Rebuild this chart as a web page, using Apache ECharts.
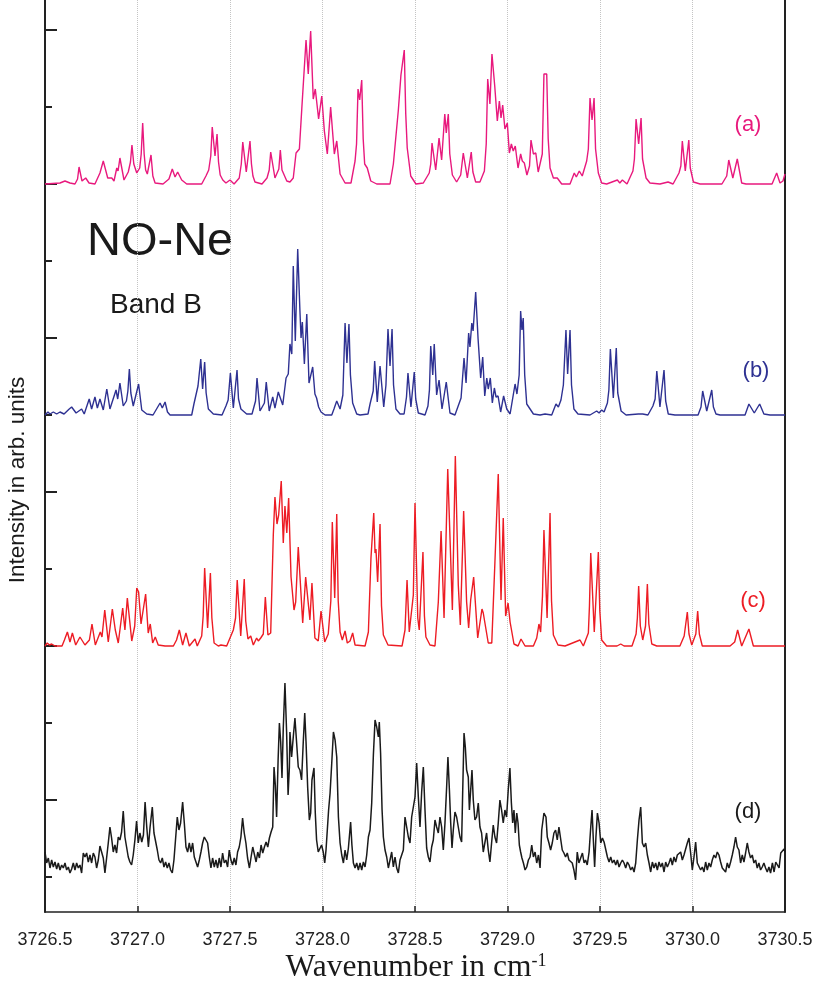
<!DOCTYPE html>
<html>
<head>
<meta charset="utf-8">
<script src="https://cdn.jsdelivr.net/npm/echarts@6/dist/echarts.min.js"></script>
<style>
html,body{margin:0;padding:0;background:#fff;}
#chart{width:823px;height:987px;}
</style>
</head>
<body>
<div id="chart"></div>
<script>
// NO-Ne, band B: three simulated spectra (a)-(c) and the measured spectrum (d).
// Each spectrum is a list of [wavenumber (cm^-1), intensity (arb. units)] pairs,
// intensity measured from that spectrum's own baseline.
const specA = [[3726.500,0],[3726.581,1],[3726.608,3],[3726.635,1],[3726.662,0],[3726.676,5],[3726.684,17],[3726.700,3],[3726.720,6],[3726.738,1],[3726.770,0],[3726.797,11],[3726.815,23],[3726.839,6],[3726.861,6],[3726.873,3],[3726.888,16],[3726.895,13],[3726.905,26],[3726.927,4],[3726.950,12],[3726.962,22],[3726.970,39],[3726.980,20],[3726.996,11],[3727.012,16],[3727.020,30],[3727.028,61],[3727.036,30],[3727.044,14],[3727.053,10],[3727.073,29],[3727.083,8],[3727.095,1],[3727.138,0],[3727.170,5],[3727.188,15],[3727.203,7],[3727.217,12],[3727.239,4],[3727.266,0],[3727.347,0],[3727.370,8],[3727.385,14],[3727.396,28],[3727.404,57],[3727.419,28],[3727.430,50],[3727.438,22],[3727.447,9],[3727.461,4],[3727.478,1],[3727.500,4],[3727.522,0],[3727.550,6],[3727.561,20],[3727.569,42],[3727.588,12],[3727.608,43],[3727.616,20],[3727.624,8],[3727.635,2],[3727.673,0],[3727.700,6],[3727.712,14],[3727.720,32],[3727.743,6],[3727.764,15],[3727.772,34],[3727.781,14],[3727.807,3],[3727.824,2],[3727.842,6],[3727.857,31],[3727.875,35],[3727.888,75],[3727.896,77],[3727.911,144],[3727.923,110],[3727.936,153],[3727.950,85],[3727.961,95],[3727.979,65],[3727.996,88],[3728.010,53],[3728.026,30],[3728.044,77],[3728.064,30],[3728.077,43],[3728.095,10],[3728.122,1],[3728.154,1],[3728.176,23],[3728.184,40],[3728.192,95],[3728.201,84],[3728.212,104],[3728.220,45],[3728.228,20],[3728.242,16],[3728.261,3],[3728.293,0],[3728.365,0],[3728.383,20],[3728.410,74],[3728.424,109],[3728.434,110],[3728.442,134],[3728.450,70],[3728.458,36],[3728.477,8],[3728.505,0],[3728.545,1],[3728.577,11],[3728.585,20],[3728.592,41],[3728.612,14],[3728.630,46],[3728.644,24],[3728.661,70],[3728.669,51],[3728.680,70],[3728.688,30],[3728.702,9],[3728.725,2],[3728.747,9],[3728.761,31],[3728.783,6],[3728.804,32],[3728.813,12],[3728.828,2],[3728.851,2],[3728.875,13],[3728.885,40],[3728.893,105],[3728.905,80],[3728.916,130],[3728.931,98],[3728.945,63],[3728.956,83],[3728.965,66],[3728.974,79],[3728.986,55],[3728.999,61],[3729.010,31],[3729.021,40],[3729.031,33],[3729.042,38],[3729.057,16],[3729.071,30],[3729.080,23],[3729.091,21],[3729.105,9],[3729.119,18],[3729.127,44],[3729.140,30],[3729.153,31],[3729.166,12],[3729.188,30],[3729.197,110],[3729.212,110],[3729.220,45],[3729.230,16],[3729.248,6],[3729.269,6],[3729.293,0],[3729.338,0],[3729.361,11],[3729.372,7],[3729.388,13],[3729.404,8],[3729.428,23],[3729.437,35],[3729.446,86],[3729.457,64],[3729.468,86],[3729.476,35],[3729.491,11],[3729.509,1],[3729.536,0],[3729.594,4],[3729.607,1],[3729.621,4],[3729.646,0],[3729.678,13],[3729.686,25],[3729.695,65],[3729.709,40],[3729.722,66],[3729.730,25],[3729.749,6],[3729.770,1],[3729.824,0],[3729.868,2],[3729.895,0],[3729.927,11],[3729.937,18],[3729.945,43],[3729.961,13],[3729.980,44],[3729.988,16],[3730.005,2],[3730.041,0],[3730.159,0],[3730.185,8],[3730.196,24],[3730.218,6],[3730.242,25],[3730.266,1],[3730.289,0],[3730.430,0],[3730.455,11],[3730.473,1],[3730.489,3],[3730.500,10]];

const specB = [[3726.500,0],[3726.516,3],[3726.527,1],[3726.545,3],[3726.563,1],[3726.581,3],[3726.603,1],[3726.631,6],[3726.644,8],[3726.668,2],[3726.698,6],[3726.712,1],[3726.739,16],[3726.752,6],[3726.770,18],[3726.783,7],[3726.797,16],[3726.815,5],[3726.834,26],[3726.851,6],[3726.884,25],[3726.893,16],[3726.905,32],[3726.923,9],[3726.940,14],[3726.948,24],[3726.956,46],[3726.964,22],[3726.977,9],[3727.006,31],[3727.023,5],[3727.050,1],[3727.084,0],[3727.122,12],[3727.134,7],[3727.149,13],[3727.162,3],[3727.176,0],[3727.293,0],[3727.305,11],[3727.327,29],[3727.342,56],[3727.352,26],[3727.363,53],[3727.371,22],[3727.383,6],[3727.410,1],[3727.457,0],[3727.478,9],[3727.490,15],[3727.502,42],[3727.518,7],[3727.538,45],[3727.546,16],[3727.559,6],[3727.590,1],[3727.619,1],[3727.638,14],[3727.646,37],[3727.662,4],[3727.686,12],[3727.696,33],[3727.712,4],[3727.731,18],[3727.743,7],[3727.761,23],[3727.785,10],[3727.803,37],[3727.815,41],[3727.824,71],[3727.834,61],[3727.842,149],[3727.853,74],[3727.866,166],[3727.878,104],[3727.884,77],[3727.891,93],[3727.902,51],[3727.915,101],[3727.927,32],[3727.936,31],[3727.947,48],[3727.959,21],[3727.968,17],[3727.979,8],[3727.992,3],[3728.014,0],[3728.050,0],[3728.062,6],[3728.077,14],[3728.095,6],[3728.110,20],[3728.122,92],[3728.132,52],[3728.143,91],[3728.151,40],[3728.163,12],[3728.185,1],[3728.203,0],[3728.246,1],[3728.257,11],[3728.274,24],[3728.282,54],[3728.296,13],[3728.311,49],[3728.331,8],[3728.343,30],[3728.354,86],[3728.365,49],[3728.376,86],[3728.384,30],[3728.397,6],[3728.419,1],[3728.441,1],[3728.454,18],[3728.462,42],[3728.478,8],[3728.496,43],[3728.504,16],[3728.518,2],[3728.554,0],[3728.570,9],[3728.578,25],[3728.585,69],[3728.596,40],[3728.604,71],[3728.617,20],[3728.630,35],[3728.646,6],[3728.669,33],[3728.689,2],[3728.716,0],[3728.749,17],[3728.765,57],[3728.776,32],[3728.790,82],[3728.797,68],[3728.807,92],[3728.814,84],[3728.828,123],[3728.841,76],[3728.855,37],[3728.866,58],[3728.877,19],[3728.888,37],[3728.896,26],[3728.907,37],[3728.918,12],[3728.929,27],[3728.938,18],[3728.949,19],[3728.963,3],[3728.979,19],[3728.996,6],[3729.014,1],[3729.023,11],[3729.041,31],[3729.051,21],[3729.063,40],[3729.071,104],[3729.078,85],[3729.085,97],[3729.093,40],[3729.104,11],[3729.122,6],[3729.140,1],[3729.176,0],[3729.203,1],[3729.239,0],[3729.262,11],[3729.275,8],[3729.289,15],[3729.302,30],[3729.316,85],[3729.325,41],[3729.338,85],[3729.346,30],[3729.359,6],[3729.381,1],[3729.446,0],[3729.482,4],[3729.495,2],[3729.509,5],[3729.522,3],[3729.540,12],[3729.548,25],[3729.556,66],[3729.572,17],[3729.588,67],[3729.596,22],[3729.614,4],[3729.641,0],[3729.707,1],[3729.731,1],[3729.759,0],[3729.786,9],[3729.798,16],[3729.807,44],[3729.824,8],[3729.846,45],[3729.855,14],[3729.869,1],[3729.905,0],[3730.030,0],[3730.046,8],[3730.055,24],[3730.077,4],[3730.104,25],[3730.113,8],[3730.127,1],[3730.149,0],[3730.284,0],[3730.305,11],[3730.334,2],[3730.363,11],[3730.386,1],[3730.419,0],[3730.500,0]];

const specC = [[3726.500,0],[3726.512,3],[3726.524,1],[3726.536,2],[3726.554,0],[3726.592,0],[3726.605,6],[3726.621,14],[3726.635,4],[3726.648,13],[3726.666,1],[3726.689,9],[3726.698,10],[3726.716,1],[3726.740,6],[3726.754,22],[3726.772,1],[3726.799,14],[3726.808,9],[3726.823,36],[3726.842,4],[3726.864,37],[3726.880,16],[3726.896,3],[3726.920,38],[3726.932,16],[3726.945,48],[3726.969,5],[3726.985,20],[3726.996,58],[3727.006,54],[3727.019,22],[3727.028,24],[3727.044,52],[3727.058,13],[3727.069,22],[3727.082,3],[3727.096,9],[3727.112,1],[3727.149,0],[3727.194,0],[3727.211,6],[3727.226,16],[3727.244,1],[3727.262,13],[3727.280,0],[3727.311,7],[3727.323,0],[3727.347,10],[3727.355,30],[3727.363,78],[3727.379,18],[3727.394,73],[3727.402,28],[3727.414,3],[3727.437,0],[3727.451,1],[3727.482,0],[3727.518,16],[3727.530,28],[3727.539,66],[3727.558,10],[3727.577,67],[3727.585,25],[3727.597,7],[3727.612,10],[3727.626,1],[3727.644,8],[3727.653,5],[3727.666,8],[3727.680,12],[3727.691,49],[3727.705,11],[3727.720,13],[3727.734,111],[3727.743,149],[3727.754,122],[3727.763,131],[3727.777,165],[3727.788,103],[3727.797,140],[3727.807,113],[3727.817,148],[3727.830,69],[3727.837,68],[3727.846,36],[3727.855,44],[3727.869,99],[3727.893,23],[3727.909,69],[3727.916,71],[3727.932,26],[3727.943,63],[3727.959,8],[3727.977,5],[3727.992,35],[3728.012,4],[3728.031,12],[3728.045,45],[3728.053,124],[3728.066,48],[3728.077,132],[3728.085,45],[3728.095,14],[3728.107,6],[3728.122,15],[3728.134,3],[3728.149,5],[3728.163,13],[3728.176,1],[3728.230,0],[3728.248,14],[3728.262,88],[3728.268,89],[3728.277,133],[3728.284,93],[3728.289,97],[3728.298,64],[3728.311,122],[3728.319,40],[3728.329,11],[3728.354,1],[3728.430,0],[3728.446,16],[3728.457,66],[3728.469,14],[3728.491,51],[3728.500,143],[3728.515,28],[3728.523,16],[3728.543,94],[3728.551,30],[3728.559,9],[3728.581,1],[3728.608,0],[3728.626,44],[3728.641,115],[3728.657,28],[3728.677,177],[3728.702,36],[3728.718,190],[3728.734,61],[3728.745,21],[3728.763,135],[3728.779,44],[3728.790,18],[3728.801,46],[3728.817,69],[3728.839,8],[3728.862,37],[3728.869,33],[3728.877,35],[3728.896,3],[3728.915,3],[3728.932,84],[3728.950,172],[3728.965,46],[3728.977,128],[3728.990,30],[3729.003,43],[3729.014,24],[3729.035,2],[3729.057,0],[3729.073,7],[3729.095,0],[3729.140,0],[3729.158,8],[3729.170,22],[3729.179,14],[3729.189,50],[3729.197,116],[3729.214,28],[3729.230,133],[3729.238,45],[3729.248,11],[3729.273,1],[3729.311,0],[3729.392,6],[3729.410,0],[3729.437,13],[3729.443,40],[3729.450,93],[3729.469,14],[3729.491,94],[3729.499,35],[3729.509,6],[3729.536,0],[3729.592,0],[3729.612,2],[3729.630,0],[3729.673,0],[3729.695,12],[3729.702,28],[3729.709,60],[3729.718,20],[3729.731,6],[3729.746,20],[3729.756,62],[3729.764,22],[3729.780,2],[3729.807,0],[3729.932,0],[3729.955,10],[3729.972,34],[3729.981,12],[3729.996,1],[3730.018,12],[3730.028,35],[3730.037,12],[3730.053,0],[3730.203,0],[3730.228,4],[3730.244,16],[3730.266,0],[3730.305,17],[3730.329,0],[3730.500,0]];

const specD = [[3726.500,25],[3726.509,14],[3726.518,19],[3726.527,9],[3726.536,17],[3726.545,10],[3726.554,15],[3726.563,8],[3726.572,14],[3726.581,7],[3726.590,12],[3726.599,9],[3726.608,14],[3726.617,7],[3726.626,10],[3726.635,4],[3726.644,8],[3726.653,14],[3726.662,7],[3726.671,14],[3726.680,9],[3726.689,12],[3726.698,4],[3726.707,24],[3726.716,20],[3726.725,24],[3726.734,15],[3726.743,22],[3726.752,14],[3726.761,24],[3726.770,20],[3726.779,9],[3726.788,17],[3726.797,31],[3726.806,25],[3726.815,19],[3726.824,4],[3726.833,19],[3726.842,34],[3726.851,50],[3726.860,39],[3726.869,25],[3726.878,32],[3726.887,24],[3726.896,40],[3726.905,37],[3726.914,45],[3726.923,66],[3726.932,40],[3726.941,30],[3726.950,20],[3726.959,15],[3726.968,12],[3726.977,22],[3726.986,37],[3726.995,56],[3727.004,34],[3727.013,44],[3727.023,35],[3727.032,42],[3727.041,75],[3727.050,50],[3727.059,30],[3727.068,50],[3727.080,70],[3727.089,44],[3727.098,45],[3727.107,27],[3727.116,17],[3727.125,14],[3727.134,19],[3727.143,10],[3727.152,15],[3727.161,9],[3727.170,14],[3727.179,7],[3727.188,4],[3727.197,17],[3727.206,17],[3727.215,60],[3727.224,47],[3727.233,54],[3727.244,75],[3727.253,54],[3727.262,30],[3727.271,25],[3727.280,34],[3727.289,25],[3727.298,34],[3727.307,20],[3727.316,15],[3727.325,10],[3727.334,17],[3727.343,25],[3727.352,34],[3727.361,40],[3727.370,42],[3727.379,34],[3727.388,20],[3727.397,9],[3727.406,19],[3727.415,10],[3727.424,17],[3727.433,9],[3727.442,19],[3727.451,10],[3727.460,24],[3727.469,14],[3727.478,17],[3727.487,10],[3727.496,27],[3727.505,17],[3727.514,12],[3727.523,19],[3727.532,12],[3727.541,25],[3727.550,30],[3727.559,40],[3727.568,59],[3727.577,44],[3727.586,34],[3727.595,19],[3727.605,9],[3727.614,20],[3727.623,30],[3727.632,32],[3727.641,15],[3727.650,25],[3727.659,19],[3727.668,32],[3727.677,24],[3727.686,30],[3727.695,35],[3727.704,30],[3727.713,39],[3727.722,45],[3727.731,50],[3727.738,110],[3727.745,92],[3727.752,60],[3727.760,117],[3727.767,154],[3727.774,135],[3727.781,99],[3727.788,149],[3727.797,194],[3727.806,145],[3727.814,82],[3727.821,110],[3727.824,145],[3727.833,120],[3727.842,140],[3727.851,159],[3727.860,160],[3727.869,110],[3727.878,107],[3727.887,97],[3727.896,135],[3727.904,164],[3727.911,135],[3727.920,89],[3727.929,57],[3727.936,64],[3727.943,97],[3727.954,109],[3727.961,64],[3727.968,37],[3727.977,25],[3727.986,27],[3727.995,32],[3728.004,25],[3728.012,14],[3728.019,27],[3728.026,47],[3728.033,67],[3728.041,84],[3728.050,114],[3728.059,145],[3728.068,137],[3728.077,120],[3728.086,60],[3728.095,34],[3728.104,22],[3728.113,14],[3728.122,27],[3728.131,17],[3728.140,29],[3728.152,55],[3728.159,32],[3728.167,14],[3728.176,9],[3728.185,14],[3728.194,7],[3728.203,14],[3728.212,7],[3728.221,15],[3728.230,10],[3728.239,22],[3728.248,40],[3728.257,47],[3728.266,74],[3728.275,122],[3728.284,157],[3728.293,150],[3728.302,140],[3728.307,155],[3728.314,124],[3728.322,67],[3728.329,40],[3728.338,27],[3728.347,20],[3728.356,9],[3728.365,17],[3728.374,25],[3728.383,10],[3728.392,20],[3728.401,9],[3728.410,4],[3728.419,17],[3728.428,19],[3728.437,27],[3728.446,60],[3728.455,50],[3728.464,40],[3728.473,34],[3728.482,60],[3728.491,70],[3728.500,80],[3728.509,114],[3728.518,80],[3728.527,50],[3728.536,85],[3728.545,110],[3728.554,67],[3728.563,29],[3728.572,20],[3728.581,15],[3728.590,30],[3728.599,37],[3728.608,57],[3728.617,50],[3728.626,44],[3728.635,60],[3728.644,50],[3728.653,27],[3728.662,54],[3728.671,90],[3728.678,120],[3728.686,87],[3728.693,54],[3728.700,29],[3728.707,47],[3728.716,65],[3728.725,60],[3728.734,50],[3728.743,40],[3728.752,35],[3728.758,87],[3728.765,144],[3728.772,130],[3728.779,107],[3728.788,100],[3728.794,67],[3728.801,87],[3728.808,107],[3728.815,77],[3728.824,57],[3728.833,60],[3728.842,74],[3728.851,50],[3728.860,44],[3728.869,25],[3728.878,27],[3728.887,44],[3728.896,27],[3728.905,15],[3728.914,34],[3728.923,52],[3728.932,40],[3728.941,34],[3728.950,54],[3728.959,77],[3728.968,67],[3728.977,54],[3728.986,67],[3728.995,60],[3729.004,87],[3729.013,109],[3729.021,74],[3729.028,54],[3729.035,67],[3729.042,44],[3729.050,64],[3729.057,54],[3729.064,32],[3729.071,25],[3729.078,19],[3729.086,14],[3729.095,7],[3729.104,10],[3729.113,17],[3729.122,20],[3729.131,32],[3729.140,20],[3729.149,25],[3729.158,14],[3729.167,22],[3729.176,9],[3729.185,47],[3729.197,64],[3729.208,60],[3729.215,40],[3729.224,34],[3729.233,27],[3729.242,34],[3729.251,44],[3729.260,47],[3729.269,37],[3729.278,50],[3729.287,49],[3729.296,27],[3729.305,24],[3729.314,20],[3729.323,24],[3729.332,17],[3729.341,15],[3729.350,14],[3729.359,7],[3729.368,-3],[3729.377,25],[3729.386,14],[3729.396,15],[3729.405,24],[3729.414,14],[3729.422,17],[3729.431,12],[3729.441,25],[3729.450,50],[3729.457,67],[3729.464,37],[3729.471,10],[3729.478,40],[3729.486,64],[3729.495,54],[3729.504,34],[3729.513,39],[3729.522,35],[3729.531,34],[3729.540,20],[3729.549,15],[3729.558,20],[3729.567,14],[3729.576,17],[3729.585,12],[3729.594,17],[3729.603,10],[3729.612,14],[3729.621,17],[3729.630,14],[3729.639,9],[3729.648,15],[3729.657,12],[3729.666,7],[3729.675,10],[3729.684,5],[3729.693,14],[3729.702,37],[3729.711,57],[3729.720,70],[3729.729,34],[3729.738,30],[3729.747,34],[3729.756,22],[3729.765,14],[3729.774,5],[3729.783,15],[3729.792,9],[3729.801,14],[3729.810,7],[3729.819,15],[3729.828,10],[3729.837,14],[3729.846,5],[3729.855,15],[3729.864,10],[3729.873,14],[3729.882,19],[3729.891,12],[3729.900,20],[3729.909,15],[3729.918,22],[3729.927,20],[3729.936,25],[3729.945,17],[3729.954,22],[3729.963,22],[3729.972,34],[3729.981,39],[3729.990,24],[3729.999,7],[3730.008,20],[3730.017,35],[3730.026,14],[3730.035,15],[3730.044,7],[3730.053,10],[3730.062,5],[3730.071,15],[3730.080,7],[3730.089,14],[3730.098,10],[3730.107,17],[3730.116,22],[3730.125,19],[3730.134,25],[3730.143,22],[3730.152,15],[3730.161,9],[3730.170,10],[3730.179,5],[3730.188,14],[3730.197,9],[3730.206,15],[3730.215,22],[3730.224,30],[3730.233,40],[3730.242,30],[3730.251,27],[3730.260,14],[3730.269,22],[3730.278,15],[3730.287,24],[3730.296,34],[3730.305,25],[3730.314,19],[3730.323,22],[3730.332,14],[3730.341,17],[3730.350,9],[3730.359,14],[3730.368,7],[3730.377,10],[3730.386,14],[3730.395,9],[3730.404,5],[3730.413,10],[3730.422,4],[3730.432,14],[3730.441,5],[3730.450,15],[3730.459,14],[3730.468,9],[3730.477,24],[3730.486,25],[3730.495,28],[3730.500,25]];

// vertical stacking of the four spectra (baseline of each, arb. units)
const offsets = [693, 462, 231, 0];
const traceLabels = ['(a)', '(b)', '(c)', '(d)'];
const traceColors = ['#e8197d', '#2e3192', '#ed1c24', '#1a1a1a'];

// y-axis tick marks: long and short, alternating
const longTicks = [77, 231, 385, 539, 693, 847];
const shortTicks = [0, 154, 308, 462, 616, 770];

const spectra = [specA, specB, specC, specD];

const chart = echarts.init(document.getElementById('chart'), null, {renderer: 'canvas'});

const sans = 'Liberation Sans, Arial, sans-serif';
const serif = 'Liberation Serif, Times New Roman, serif';

const yBase = {
  type: 'value', min: -35, max: 877, position: 'left',
  axisLabel: {show: false}, splitLine: {show: false}
};

const option = {
  animation: false,
  backgroundColor: '#fff',
  grid: {left: 45, right: 38, top: 0, bottom: 75, containLabel: false},
  xAxis: {
    type: 'value', min: 3726.5, max: 3730.5, interval: 0.5,
    axisLine: {show: true, onZero: false, lineStyle: {color: '#222', width: 1.5}},
    axisTick: {show: true, inside: true, length: 6, lineStyle: {color: '#222', width: 1.5}},
    axisLabel: {formatter: v => v.toFixed(1), color: '#222', fontSize: 18, margin: 19, fontFamily: sans},
    splitLine: {show: true, lineStyle: {color: '#c4c4c4', type: 'dotted', width: 1}}
  },
  yAxis: [
    Object.assign({}, yBase, {
      axisLine: {show: true, lineStyle: {color: '#222', width: 2}},
      axisTick: {show: true, inside: true, length: 12, customValues: longTicks, lineStyle: {color: '#222', width: 2}}
    }),
    Object.assign({}, yBase, {
      axisLine: {show: false},
      axisTick: {show: true, inside: true, length: 7, customValues: shortTicks, lineStyle: {color: '#222', width: 2}}
    }),
    Object.assign({}, yBase, {
      position: 'right',
      axisLine: {show: true, lineStyle: {color: '#222', width: 2}},
      axisTick: {show: false}
    })
  ],
  series: spectra.map((s, i) => ({
    type: 'line',
    name: traceLabels[i],
    yAxisIndex: 0,
    showSymbol: false,
    silent: true,
    clip: true,
    lineStyle: {color: traceColors[i], width: i === 3 ? 1.5 : 1.4},
    data: s.map(p => [p[0], p[1] + offsets[i]])
  })),
  graphic: [
    {type: 'text', left: 87, top: 219, style: {text: 'NO-Ne', fontSize: 47, fill: '#1a1a1a', fontFamily: sans}},
    {type: 'text', left: 110, top: 291, style: {text: 'Band B', fontSize: 28, fill: '#1a1a1a', fontFamily: sans}},
    {type: 'text', x: 748, y: 125, style: {text: traceLabels[0], fontSize: 22, fill: traceColors[0], align: 'center', verticalAlign: 'middle', fontFamily: sans}},
    {type: 'text', x: 756, y: 371, style: {text: traceLabels[1], fontSize: 22, fill: traceColors[1], align: 'center', verticalAlign: 'middle', fontFamily: sans}},
    {type: 'text', x: 753, y: 601, style: {text: traceLabels[2], fontSize: 22, fill: traceColors[2], align: 'center', verticalAlign: 'middle', fontFamily: sans}},
    {type: 'text', x: 748, y: 812, style: {text: traceLabels[3], fontSize: 22, fill: traceColors[3], align: 'center', verticalAlign: 'middle', fontFamily: sans}},
    {type: 'text', x: 18, y: 480, rotation: Math.PI / 2,
     style: {text: 'Intensity in arb. units', fontSize: 22.5, fill: '#1a1a1a', align: 'center', verticalAlign: 'middle', fontFamily: sans}},
    {type: 'text', x: 416, y: 968,
     style: {
       text: '{b|Wavenumber in cm}{s|-1}', align: 'center', verticalAlign: 'middle',
       rich: {
         b: {fontSize: 31.5, fill: '#1a1a1a', fontFamily: serif},
         s: {fontSize: 18, fill: '#1a1a1a', verticalAlign: 'top', fontFamily: serif}
       }
     }}
  ]
};

chart.setOption(option);
</script>
</body>
</html>
